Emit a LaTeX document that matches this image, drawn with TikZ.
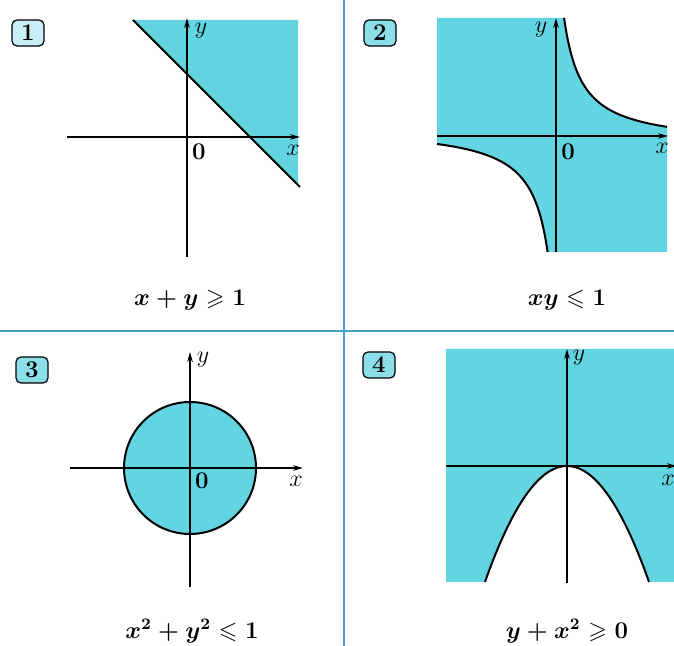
\documentclass[tikz,border=0pt]{standalone}
\usepackage{amssymb}
\usetikzlibrary{arrows.meta}

\definecolor{regionfill}{RGB}{98,212,226}
\definecolor{tagfill}{RGB}{140,222,232}
\definecolor{taglight}{RGB}{198,240,245}
\definecolor{framecol}{RGB}{70,160,205}

\tikzset{
  axis/.style={line width=0.75pt, -{Stealth[length=5pt,width=2.8pt]}},
  bound/.style={line width=1pt},
  region/.style={fill=regionfill},
  tagbox/.style={draw, rounded corners=2.5pt, fill=tagfill, line width=0.6pt,
    minimum width=16pt, minimum height=13pt, inner sep=0pt, font=\large\bfseries},
  axlab/.style={inner sep=0pt, font=\large},
  caption/.style={inner sep=0pt, font=\large\boldmath}
}

\begin{document}
\begin{tikzpicture}[
    x=0.5pt,
    y=0.5pt,
    declare function={ hypU(\x) = 2275/(\x+9.7)-9.7;
                       hypL(\x) = 9.7-2275/(9.7-\x);
                       para(\x) = 0-(\x)*(\x)/58; }
]
\useasboundingbox (0,0) rectangle (674,646);

% frame
\draw[framecol, line width=0.8pt] (344,0) -- (344,646);
\draw[framecol, line width=0.8pt] (0,315) -- (674,315);

\foreach \n/\tx/\ty/\tc in {1/28/613/taglight, 2/380/613/tagfill,
                            3/32/276/tagfill, 4/379/281/tagfill}{
  \node[tagbox, fill=\tc] (tag\n) at (\tx,\ty) {\n};
}

% 1: x + y >= 1
\begin{scope}[shift={(187,509)}]
  \fill[region] (-54,117) -- (111,117) -- (111,-48) -- cycle;
  \draw[axis] (-120,0) -- (113,0);
  \draw[axis] (0,-120) -- (0,119);
  \draw[bound] (-54,117) -- (113,-50);
  \node[axlab] (ylabA) at (14,106) {$y$};
  \node[axlab] (xlabA) at (106,-13) {$x$};
  \node[axlab] (zeroA) at (12,-15) {\textbf{0}};
  \node[caption] (capA) at (3,-163) {$x+y\geqslant 1$};
\end{scope}

% 2: xy <= 1
\begin{scope}[shift={(556,510)}]
  \fill[region] (-119,118) -- (8.1,118)
    -- plot[domain=8.1:111, samples=80] (\x,{hypU(\x)})
    -- (111,-116) -- (-8.4,-116)
    -- plot[domain=-8.4:-119, samples=80] (\x,{hypL(\x)}) -- cycle;
  \draw[axis] (-119,0) -- (112,0);
  \draw[axis] (0,-116) -- (0,118);
  \draw[bound] plot[domain=8.1:111, samples=80] (\x,{hypU(\x)});
  \draw[bound] plot[domain=-119:-8.4, samples=80] (\x,{hypL(\x)});
  \node[axlab] (ylabB) at (-15,106) {$y$};
  \node[axlab] (xlabB) at (106,-12) {$x$};
  \node[axlab] (zeroB) at (12,-16) {\textbf{0}};
  \node[caption] (capB) at (11,-164) {$xy\leqslant 1$};
\end{scope}

% 3: x^2 + y^2 <= 1
\begin{scope}[shift={(190,178)}]
  \fill[region] (0,0) circle[radius=66];
  \draw[axis] (-120,0) -- (113,0);
  \draw[axis] (0,-119) -- (0,116);
  \draw[bound] (0,0) circle[radius=66];
  \node[axlab] (ylabC) at (13,108) {$y$};
  \node[axlab] (xlabC) at (106,-13) {$x$};
  \node[axlab] (zeroC) at (12,-13) {\textbf{0}};
  \node[caption] (capC) at (2,-163) {$x^2+y^2\leqslant 1$};
\end{scope}

% 4: y + x^2 >= 0
\begin{scope}[shift={(567,180)}]
  \fill[region] (-121,117) -- (110,117) -- (110,-116) -- (82,-116)
    -- plot[domain=82:-82, samples=80] (\x,{para(\x)})
    -- (-121,-116) -- cycle;
  \draw[axis] (-121,0) -- (110,0);
  \draw[axis] (0,-117) -- (0,117);
  \draw[bound] plot[domain=-82:82, samples=80] (\x,{para(\x)});
  \node[axlab] (ylabD) at (12,108) {$y$};
  \node[axlab] (xlabD) at (101,-14) {$x$};
  \node[caption] (capD) at (0,-165) {$y+x^2\geqslant 0$};
\end{scope}
\end{tikzpicture}
\end{document}
